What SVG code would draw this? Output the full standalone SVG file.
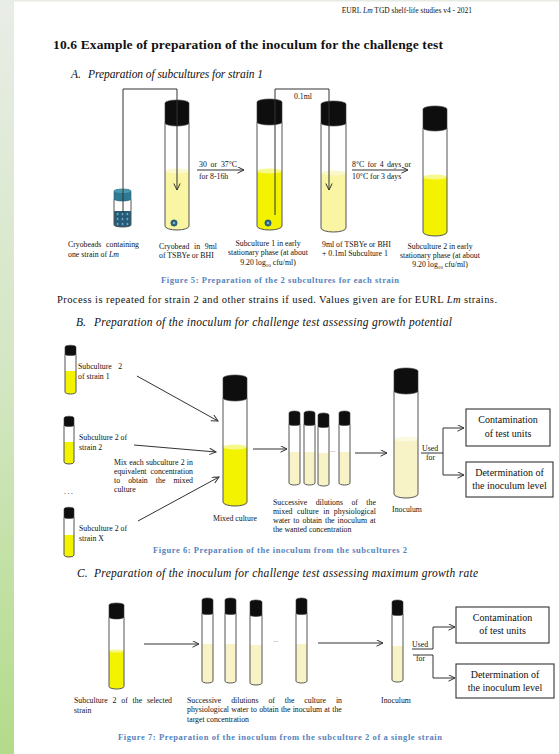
<svg xmlns="http://www.w3.org/2000/svg" width="559" height="754" viewBox="0 0 559 754">
  <defs>
    <linearGradient id="sideBand" x1="0" y1="0" x2="0" y2="1">
      <stop offset="0" stop-color="#e9ede7"/>
      <stop offset="0.5" stop-color="#d3e6c2"/>
      <stop offset="1" stop-color="#b3db8a"/>
    </linearGradient>
    <marker id="head" markerUnits="userSpaceOnUse" markerWidth="9" markerHeight="9" refX="7" refY="3.5" orient="auto">
      <path d="M0.5,0.3 L7,3.5 L0.5,6.7" fill="none" stroke="#333" stroke-width="1"/>
    </marker>
    <style>
      text { font-family: "Liberation Serif", "Times New Roman", serif; fill: #111; }
      .hdr { font-size: 7.5px; }
      .title { font-size: 13.5px; font-weight: bold; }
      .sec { font-size: 11.5px; font-style: italic; }
      .body { font-size: 10.5px; }
      .lbl { font-size: 7.8px; }
      .box { font-size: 10px; }
      .cap-txt { font-size: 8.5px; font-weight: bold; fill: #5683bd; }
      .dots { font-size: 7px; fill: #888; }
      .tb { fill: #fff; }
      .tl { fill: none; stroke: #555; stroke-width: 1; }
      .cap { fill: #0e0e0e; stroke: #3a3a3a; stroke-width: 0.6; }
      .yb { fill: #f3f300; }
      .yb-s { fill: #f7f78a; }
      .yp { fill: #f9f5a2; }
      .yp-s { fill: #fbf9cc; }
      .yl { fill: #f7f3c6; }
      .yl-s { fill: #fbf9e2; }
      .conn { fill: none; stroke: #333; stroke-width: 1; }
      .arr { marker-end: url(#head); }
      .frame { fill: #fff; stroke: #333; stroke-width: 1.1; }
      .bead { fill: #2d6a86; stroke: #1d4d63; stroke-width: 0.5; }
      .bead-c { fill: #a9cbd8; }
    </style>
  </defs>

  <!-- page background -->
  <rect x="0" y="0" width="559" height="754" fill="#fff"/>
  <rect x="0" y="0" width="14" height="754" fill="url(#sideBand)"/>
  <rect x="14" y="0" width="545" height="1.5" fill="#e6ebe3"/>

  <!-- running header and headings -->
  <text class="hdr" x="472" y="13" text-anchor="end">EURL <tspan font-style="italic">Lm</tspan> TGD shelf-life studies v4 - 2021</text>
  <text class="title" x="53" y="49" textLength="390">10.6 Example of preparation of the inoculum for the challenge test</text>
  <text class="sec" x="71" y="78">A.</text>
  <text class="sec" x="88" y="78" textLength="175">Preparation of subcultures for strain 1</text>

  <!-- ===== Part A: subcultures ===== -->
  <g id="cryovial">
    <path class="tb" d="M114 199 V225 A8.5 2 0 0 0 131 225 V199 Z"/>
    <path fill="#2b5f80" d="M114 211 V225 A8.5 2 0 0 0 131 225 V211 Z"/>
    <g class="bead">
      <circle cx="117.6" cy="214" r="2.5"/><circle cx="122.5" cy="214" r="2.5"/><circle cx="127.4" cy="214" r="2.5"/>
      <circle cx="117.6" cy="219" r="2.5"/><circle cx="122.5" cy="219" r="2.5"/><circle cx="127.4" cy="219" r="2.5"/>
      <circle cx="117.6" cy="224" r="2.5"/><circle cx="122.5" cy="224" r="2.5"/><circle cx="127.4" cy="224" r="2.5"/>
    </g>
    <g class="bead-c">
      <circle cx="117.6" cy="214" r="0.7"/><circle cx="122.5" cy="214" r="0.7"/><circle cx="127.4" cy="214" r="0.7"/>
      <circle cx="117.6" cy="219" r="0.7"/><circle cx="122.5" cy="219" r="0.7"/><circle cx="127.4" cy="219" r="0.7"/>
      <circle cx="117.6" cy="224" r="0.7"/><circle cx="122.5" cy="224" r="0.7"/><circle cx="127.4" cy="224" r="0.7"/>
    </g>
    <path class="tl" d="M114 199 V225 A8.5 2 0 0 0 131 225 V199"/>
    <path fill="#2e7a92" stroke="#235f73" stroke-width="0.6" d="M114 199 V191 A8.5 2 0 0 1 131 191 V199 A8.5 2 0 0 1 114 199 Z"/>
    <ellipse cx="122.5" cy="191" rx="8.5" ry="2" fill="#4a98ae"/>
  </g>

  <g id="tubeA1">
    <path class="tb" d="M165 123 V226 A12 4 0 0 0 189 226 V123 Z"/>
    <path class="yp" d="M165 171 V226 A12 4 0 0 0 189 226 V171 Z"/>
    <ellipse class="yp-s" cx="177" cy="171" rx="12" ry="2.5"/>
    <path class="tl" d="M165 123 V226 A12 4 0 0 0 189 226 V123"/>
    <path class="cap" d="M165 123 V103 A12 3 0 0 1 189 103 V123 A12 3 0 0 1 165 123 Z"/>
    <circle class="bead" cx="174" cy="223" r="3.2"/>
    <circle class="bead-c" cx="174" cy="223" r="1"/>
  </g>

  <g id="tubeA2">
    <path class="tb" d="M257 122 V226 A12.5 4 0 0 0 282 226 V122 Z"/>
    <path class="yb" d="M257 171 V226 A12.5 4 0 0 0 282 226 V171 Z"/>
    <ellipse class="yb-s" cx="269.5" cy="171" rx="12.5" ry="2.5"/>
    <path class="tl" d="M257 122 V226 A12.5 4 0 0 0 282 226 V122"/>
    <path class="cap" d="M257 122 V102 A12.5 3 0 0 1 282 102 V122 A12.5 3 0 0 1 257 122 Z"/>
    <circle class="bead" cx="268" cy="223" r="3.2"/>
    <circle class="bead-c" cx="268" cy="223" r="1"/>
  </g>

  <g id="tubeA3">
    <path class="tb" d="M321 123 V228 A12.5 4 0 0 0 346 228 V123 Z"/>
    <path class="yp" d="M321 173 V228 A12.5 4 0 0 0 346 228 V173 Z"/>
    <ellipse class="yp-s" cx="333.5" cy="173" rx="12.5" ry="2.5"/>
    <path class="tl" d="M321 123 V228 A12.5 4 0 0 0 346 228 V123"/>
    <path class="cap" d="M321 123 V104 A12.5 3 0 0 1 346 104 V123 A12.5 3 0 0 1 321 123 Z"/>
  </g>

  <g id="tubeA4">
    <path class="tb" d="M423 128 V232 A12 4 0 0 0 447 232 V128 Z"/>
    <path class="yb" d="M423 177 V232 A12 4 0 0 0 447 232 V177 Z"/>
    <ellipse class="yb-s" cx="435" cy="177" rx="12" ry="2.5"/>
    <path class="tl" d="M423 128 V232 A12 4 0 0 0 447 232 V128"/>
    <path class="cap" d="M423 128 V109 A12 3 0 0 1 447 109 V128 A12 3 0 0 1 423 128 Z"/>
  </g>

  <g id="labelsA">
    <text class="lbl" x="68" y="247" word-spacing="2.8">Cryobeads containing</text>
    <text class="lbl" x="68" y="257">one strain of <tspan font-style="italic">Lm</tspan></text>
    <text class="lbl" x="159" y="249" word-spacing="2.8">Cryobead in 9ml</text>
    <text class="lbl" x="159" y="258">of TSBYe or BHI</text>
    <text class="lbl" x="268" y="246" text-anchor="middle">Subculture 1 in early</text>
    <text class="lbl" x="268" y="255" text-anchor="middle">stationary phase (at about</text>
    <text class="lbl" x="268" y="265" text-anchor="middle">9.20 log<tspan font-size="5" dy="1.5">10</tspan><tspan dy="-1.5"> cfu/ml)</tspan></text>
    <text class="lbl" x="322" y="247">9ml of TSBYe or BHI</text>
    <text class="lbl" x="322" y="256">+ 0.1ml Subculture 1</text>
    <text class="lbl" x="440" y="249" text-anchor="middle">Subculture 2 in early</text>
    <text class="lbl" x="440" y="258" text-anchor="middle">stationary phase (at about</text>
    <text class="lbl" x="440" y="267" text-anchor="middle">9.20 log<tspan font-size="5" dy="1.5">10</tspan><tspan dy="-1.5"> cfu/ml)</tspan></text>
    <text class="lbl" x="294" y="99">0.1ml</text>
    <text class="lbl" x="199" y="167" word-spacing="1.85">30 or 37°C</text>
    <text class="lbl" x="199" y="179">for 8-16h</text>
    <text class="lbl" x="352" y="167" word-spacing="1.3">8°C for 4 days or</text>
    <text class="lbl" x="352" y="179">10°C for 3 days</text>
    <text class="cap-txt" x="161" y="283" textLength="238">Figure 5: Preparation of the 2 subcultures for each strain</text>
  </g>

  <text class="body" x="57" y="303" textLength="440">Process is repeated for strain 2 and other strains if used. Values given are for EURL <tspan font-style="italic">Lm</tspan> strains.</text>
  <text class="sec" x="76" y="326">B.</text>
  <text class="sec" x="94" y="326" textLength="358">Preparation of the inoculum for challenge test assessing growth potential</text>

  <!-- ===== Part B: mixed inoculum ===== -->
  <g id="tubeS1">
    <path class="tb" d="M65 354 V392 A5.5 2 0 0 0 76 392 V354 Z"/>
    <path class="yb" d="M65 371 V392 A5.5 2 0 0 0 76 392 V371 Z"/>
    <path class="tl" d="M65 354 V392 A5.5 2 0 0 0 76 392 V354"/>
    <path class="cap" d="M65 354 V347 A5.5 1.8 0 0 1 76 347 V354 A5.5 1.5 0 0 1 65 354 Z"/>
  </g>
  <g id="tubeS2">
    <path class="tb" d="M64 425 V462 A5 2 0 0 0 74 462 V425 Z"/>
    <path class="yb" d="M64 442 V462 A5 2 0 0 0 74 462 V442 Z"/>
    <path class="tl" d="M64 425 V462 A5 2 0 0 0 74 462 V425"/>
    <path class="cap" d="M64 425 V418 A5 1.8 0 0 1 74 418 V425 A5 1.5 0 0 1 64 425 Z"/>
  </g>
  <g id="tubeSX">
    <path class="tb" d="M64 517 V555 A5 2 0 0 0 74 555 V517 Z"/>
    <path class="yb" d="M64 535 V555 A5 2 0 0 0 74 555 V535 Z"/>
    <path class="tl" d="M64 517 V555 A5 2 0 0 0 74 555 V517"/>
    <path class="cap" d="M64 517 V509 A5 1.8 0 0 1 74 509 V517 A5 1.5 0 0 1 64 517 Z"/>
  </g>
  <g id="tubeMixed">
    <path class="tb" d="M223 398 V502 A12 4 0 0 0 247 502 V398 Z"/>
    <path class="yb" d="M223 447 V502 A12 4 0 0 0 247 502 V447 Z"/>
    <ellipse class="yb-s" cx="235" cy="447" rx="12" ry="2.5"/>
    <path class="tl" d="M223 398 V502 A12 4 0 0 0 247 502 V398"/>
    <path class="cap" d="M223 398 V378 A12 3 0 0 1 247 378 V398 A12 3 0 0 1 223 398 Z"/>
  </g>
  <g id="dilutionsB">
    <path class="tb" d="M289 424 V483 A5.5 2 0 0 0 300 483 V424 Z"/>
    <path class="yl" d="M289 452 V483 A5.5 2 0 0 0 300 483 V452 Z"/>
    <path class="tl" d="M289 424 V483 A5.5 2 0 0 0 300 483 V424"/>
    <path class="cap" d="M289 424 V413 A5.5 2 0 0 1 300 413 V424 A5.5 1.5 0 0 1 289 424 Z"/>

    <path class="tb" d="M304 424 V483 A5.5 2 0 0 0 315 483 V424 Z"/>
    <path class="yl" d="M304 452 V483 A5.5 2 0 0 0 315 483 V452 Z"/>
    <path class="tl" d="M304 424 V483 A5.5 2 0 0 0 315 483 V424"/>
    <path class="cap" d="M304 424 V413 A5.5 2 0 0 1 315 413 V424 A5.5 1.5 0 0 1 304 424 Z"/>

    <path class="tb" d="M318 426 V484 A5.5 2 0 0 0 329 484 V426 Z"/>
    <path class="yl" d="M318 453 V484 A5.5 2 0 0 0 329 484 V453 Z"/>
    <path class="tl" d="M318 426 V484 A5.5 2 0 0 0 329 484 V426"/>
    <path class="cap" d="M318 426 V415 A5.5 2 0 0 1 329 415 V426 A5.5 1.5 0 0 1 318 426 Z"/>

    <text class="dots" x="330" y="452">...</text>

    <path class="tb" d="M339 424 V483 A5.5 2 0 0 0 350 483 V424 Z"/>
    <path class="yl" d="M339 452 V483 A5.5 2 0 0 0 350 483 V452 Z"/>
    <path class="tl" d="M339 424 V483 A5.5 2 0 0 0 350 483 V424"/>
    <path class="cap" d="M339 424 V413 A5.5 2 0 0 1 350 413 V424 A5.5 1.5 0 0 1 339 424 Z"/>
  </g>
  <g id="tubeInocB">
    <path class="tb" d="M394 391 V494 A12 4 0 0 0 418 494 V391 Z"/>
    <path class="yl" d="M394 439 V494 A12 4 0 0 0 418 494 V439 Z"/>
    <ellipse class="yl-s" cx="406" cy="439" rx="12" ry="2.5"/>
    <path class="tl" d="M394 391 V494 A12 4 0 0 0 418 494 V391"/>
    <path class="cap" d="M394 391 V371 A12 3 0 0 1 418 371 V391 A12 3 0 0 1 394 391 Z"/>
  </g>
  <g id="boxB1">
    <rect class="frame" x="466" y="409" width="84" height="37"/>
    <text class="box" x="508" y="423" text-anchor="middle">Contamination</text>
    <text class="box" x="508" y="437" text-anchor="middle">of test units</text>
  </g>
  <g id="boxB2">
    <rect class="frame" x="466" y="462" width="87" height="35"/>
    <text class="box" x="509.5" y="476" text-anchor="middle">Determination of</text>
    <text class="box" x="509.5" y="489" text-anchor="middle">the inoculum level</text>
  </g>
  <g id="labelsB">
    <text class="lbl" x="78" y="369" word-spacing="4.4">Subculture 2</text>
    <text class="lbl" x="78" y="379">of strain 1</text>
    <text class="lbl" x="79" y="440">Subculture 2 of</text>
    <text class="lbl" x="79" y="450">strain 2</text>
    <text class="lbl" x="114" y="465" word-spacing="0.35">Mix each subculture 2 in</text>
    <text class="lbl" x="114" y="474" word-spacing="2.1">equivalent concentration</text>
    <text class="lbl" x="114" y="483" word-spacing="6.2">to obtain the mixed</text>
    <text class="lbl" x="114" y="492">culture</text>
    <text class="lbl" x="64" y="494" letter-spacing="1.5">...</text>
    <text class="lbl" x="79" y="531">Subculture 2 of</text>
    <text class="lbl" x="79" y="541">strain X</text>
    <text class="lbl" x="235" y="521" text-anchor="middle">Mixed culture</text>
    <text class="lbl" x="273" y="505" word-spacing="6.5">Successive dilutions of the</text>
    <text class="lbl" x="273" y="514" word-spacing="2.6">mixed culture in physiological</text>
    <text class="lbl" x="273" y="523" word-spacing="1.1">water to obtain the inoculum at</text>
    <text class="lbl" x="273" y="532">the wanted concentration</text>
    <text class="lbl" x="407" y="512" text-anchor="middle">Inoculum</text>
    <text class="lbl" x="422" y="451">Used</text>
    <text class="lbl" x="426" y="460">for</text>
    <text class="cap-txt" x="153" y="553" textLength="254">Figure 6: Preparation of the inoculum from the subcultures 2</text>
  </g>

  <text class="sec" x="77" y="577">C.</text>
  <text class="sec" x="94" y="577" textLength="384">Preparation of the inoculum for challenge test assessing maximum growth rate</text>

  <!-- ===== Part C: single-strain inoculum ===== -->
  <g id="tubeSubC">
    <path class="tb" d="M109 617 V686.5 A7.5 2.5 0 0 0 124 686.5 V617 Z"/>
    <path class="yb" d="M109 651 V686.5 A7.5 2.5 0 0 0 124 686.5 V651 Z"/>
    <ellipse class="yb-s" cx="116.5" cy="651" rx="7.5" ry="1.6"/>
    <path class="tl" d="M109 617 V686.5 A7.5 2.5 0 0 0 124 686.5 V617"/>
    <path class="cap" d="M109 617 V605 A7.5 2 0 0 1 124 605 V617 A7.5 2 0 0 1 109 617 Z"/>
  </g>
  <g id="dilutionsC">
    <path class="tb" d="M202 613 V681 A5.5 2 0 0 0 213 681 V613 Z"/>
    <path class="yl" d="M202 644 V681 A5.5 2 0 0 0 213 681 V644 Z"/>
    <path class="tl" d="M202 613 V681 A5.5 2 0 0 0 213 681 V613"/>
    <path class="cap" d="M202 613 V600 A5.5 2 0 0 1 213 600 V613 A5.5 1.5 0 0 1 202 613 Z"/>

    <path class="tb" d="M225 613 V681 A5.5 2 0 0 0 236 681 V613 Z"/>
    <path class="yl" d="M225 644 V681 A5.5 2 0 0 0 236 681 V644 Z"/>
    <path class="tl" d="M225 613 V681 A5.5 2 0 0 0 236 681 V613"/>
    <path class="cap" d="M225 613 V600 A5.5 2 0 0 1 236 600 V613 A5.5 1.5 0 0 1 225 613 Z"/>

    <path class="tb" d="M250 615 V683 A6 2 0 0 0 262 683 V615 Z"/>
    <path class="yl" d="M250 645 V683 A6 2 0 0 0 262 683 V645 Z"/>
    <path class="tl" d="M250 615 V683 A6 2 0 0 0 262 683 V615"/>
    <path class="cap" d="M250 615 V602 A6 2 0 0 1 262 602 V615 A6 1.5 0 0 1 250 615 Z"/>

    <text class="dots" x="273" y="642">...</text>

    <path class="tb" d="M296 613 V681 A5.5 2 0 0 0 307 681 V613 Z"/>
    <path class="yl" d="M296 644 V681 A5.5 2 0 0 0 307 681 V644 Z"/>
    <path class="tl" d="M296 613 V681 A5.5 2 0 0 0 307 681 V613"/>
    <path class="cap" d="M296 613 V600 A5.5 2 0 0 1 307 600 V613 A5.5 1.5 0 0 1 296 613 Z"/>
  </g>
  <g id="tubeInocC">
    <path class="tb" d="M392 614 V680 A5.5 2 0 0 0 403 680 V614 Z"/>
    <path class="yl" d="M392 646 V680 A5.5 2 0 0 0 403 680 V646 Z"/>
    <path class="tl" d="M392 614 V680 A5.5 2 0 0 0 403 680 V614"/>
    <path class="cap" d="M392 614 V602 A5.5 2 0 0 1 403 602 V614 A5.5 1.5 0 0 1 392 614 Z"/>
  </g>
  <g id="boxC1">
    <rect class="frame" x="456" y="607" width="93" height="36"/>
    <text class="box" x="502.5" y="621" text-anchor="middle">Contamination</text>
    <text class="box" x="502.5" y="634" text-anchor="middle">of test units</text>
  </g>
  <g id="boxC2">
    <rect class="frame" x="456" y="664" width="98" height="34"/>
    <text class="box" x="505" y="678" text-anchor="middle">Determination of</text>
    <text class="box" x="505" y="691" text-anchor="middle">the inoculum level</text>
  </g>
  <g id="labelsC">
    <text class="lbl" x="74" y="703" word-spacing="2.85">Subculture 2 of the selected</text>
    <text class="lbl" x="74" y="713">strain</text>
    <text class="lbl" x="187" y="703" word-spacing="8">Successive dilutions of the culture in</text>
    <text class="lbl" x="187" y="712" word-spacing="0.3">physiological water to obtain the inoculum at the</text>
    <text class="lbl" x="187" y="722">target concentration</text>
    <text class="lbl" x="396" y="703" text-anchor="middle">Inoculum</text>
    <text class="lbl" x="412" y="647">Used</text>
    <text class="lbl" x="416" y="661">for</text>
    <text class="cap-txt" x="118" y="740" textLength="324">Figure 7: Preparation of the inoculum from the subculture 2 of a single strain</text>
  </g>

  <!-- connectors -->
  <g id="connectors">
    <path class="conn arr" d="M123 213 V89 H177 V190"/>
    <path class="conn arr" d="M197 170 H244"/>
    <path class="conn arr" d="M275 215 V89 H329 V190"/>
    <path class="conn arr" d="M352 170 H408"/>

    <path class="conn arr" d="M137 376 L218 421"/>
    <path class="conn arr" d="M134 445 L216 452"/>
    <path class="conn arr" d="M138 521 L219 477"/>
    <path class="conn arr" d="M253 449 H287"/>
    <path class="conn arr" d="M355 453 H387"/>
    <path class="conn" d="M421 453 H443 M443 428 V475"/>
    <path class="conn arr" d="M443 428 H464"/>
    <path class="conn arr" d="M443 475 H464"/>

    <path class="conn arr" d="M144 644 H199"/>
    <path class="conn arr" d="M318 643 H383"/>
    <path class="conn arr" d="M412 649 H433 V627 H455"/>
    <path class="conn arr" d="M413 655 H433 V678 H455"/>
  </g>
</svg>
